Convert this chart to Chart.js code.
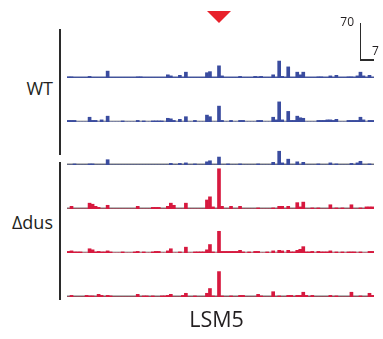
<!DOCTYPE html>
<html>
<head>
<meta charset="utf-8">
<script src="https://cdn.jsdelivr.net/npm/chart.js@4.4.1/dist/chart.umd.min.js"></script>
<style>
  html, body { margin:0; padding:0; background:#fff; }
  #wrap { position:relative; width:383px; height:339px; overflow:hidden; font-family:"Open Sans", "Noto Sans", sans-serif; color:#231f20; }
  .trk { position:absolute; }
  .lbl { position:absolute; white-space:nowrap; }
  .ln { position:absolute; background:#2b2b2b; }
</style>
</head>
<body>
<div id="wrap"></div>
<script>
// ---- data (read counts per 3-nt bin across the LSM5 region) ----
const binLabels = [];
for (let i = 1; i <= 102; i++) binLabels.push(String(i));

const wt1 = [
  2,2,0,0,0,0,0,3,0,0,  0,0,0,13,0,0,0,0,0,0,  0,0,0,2,2,0,0,0,0,0,
  0,0,0,6,4,0,0,5,0,11, 0,0,0,0,0,0,10,12,0,0, 23,4,0,0,0,0,0,3,0,0,
  0,0,3,2,3,0,0,0,6,0,  32,3,0,21,0,0,11,6,11,0, 0,0,0,2,2,0,0,4,0,5,
  0,0,0,2,2,0,4,11,4,0, 5,0];
const wt2 = [
  3,3,3,0,0,0,0,9,3,3,  0,4,0,11,0,0,0,0,2,0,  0,0,0,3,0,2,0,0,2,2,
  2,2,0,7,6,3,0,5,0,10, 0,0,3,0,0,0,13,10,0,0, 30,3,0,0,3,0,0,3,3,0,
  0,0,0,3,3,0,0,0,9,4,  38,4,0,20,3,3,11,8,7,0, 0,0,0,3,3,3,4,4,3,5,
  0,0,0,3,3,3,3,9,4,0,  3,3];
const wt3 = [
  0,0,2,0,0,0,0,2,2,0,  0,0,0,10,0,0,0,0,0,0,  0,0,0,0,0,0,0,0,0,0,
  0,0,0,0,3,0,0,3,0,4,  0,0,2,0,0,0,6,8,0,0,   15,0,0,2,0,0,0,2,0,0,
  0,0,0,2,0,0,0,0,5,0,  26,4,0,11,0,0,6,0,5,0, 0,0,0,2,0,0,0,4,0,2,
  0,0,0,0,3,0,4,7,0,0,  2,0];
const dus1 = [
  0,5,0,0,0,0,0,11,9,5, 3,0,0,7,0,0,0,0,0,0,   0,0,0,5,0,0,0,0,3,3,
  3,0,0,5,11,7,0,0,0,11, 0,0,0,0,0,0,17,23,4,0, 76,5,0,0,5,0,0,5,0,0,
  0,0,0,2,0,0,0,0,2,0,  5,5,0,5,0,0,12,4,13,0, 0,2,0,2,0,0,0,8,0,2,
  0,2,0,0,8,0,0,2,0,4,  4,4];
const dus2 = [
  3,4,2,2,2,0,0,8,6,2,  3,2,2,4,2,0,0,0,2,0,   0,0,2,3,0,2,0,0,2,3,
  3,0,0,4,8,0,0,2,0,11, 0,0,2,2,2,2,6,16,2,0,  41,3,3,3,3,3,3,5,2,0,
  2,0,3,3,0,0,2,0,4,0,  5,4,0,5,2,2,5,7,12,2,  2,3,0,3,2,2,2,4,0,2,
  0,2,0,2,2,2,0,2,0,0,  3,3];
const dus3 = [
  0,3,0,0,0,0,3,2,2,0,  5,3,0,3,2,0,0,0,0,0,   0,0,0,5,0,2,2,0,2,0,
  0,2,2,3,5,0,0,0,3,7,  0,0,2,0,0,0,7,16,2,0,  48,2,0,0,2,0,0,3,3,0,
  0,0,0,5,2,0,0,0,10,0, 2,0,0,3,3,0,3,3,9,3,   0,3,0,0,0,0,0,3,0,2,
  0,0,0,0,9,0,0,2,0,0,  7,3];
const markedBin = "51";   // site marked by the red arrowhead
const scaleBarReads = "70";
const scaleBarNt = "7";
const yMax = 85;

// ---- layout / styles ----
const BLUE = "#3a4c9f", RED = "#d7193f";
const tracks = [
  { data: wt1,  color: BLUE, base: "#4a5a9c", top: 33 },
  { data: wt2,  color: BLUE, base: "#a9a9a9", top: 77 },
  { data: wt3,  color: BLUE, base: "#7a7a7a", top: 120 },
  { data: dus1, color: RED,  base: "#777777", top: 164 },
  { data: dus2, color: RED,  base: "#ababab", top: 208 },
  { data: dus3, color: RED,  base: "#6f6f6f", top: 252 }
];
const TRK_LEFT = 67, TRK_W = 307, TRK_H = 45;

const wrap = document.getElementById('wrap');

const baselinePlugin = {
  id: 'baseline',
  beforeDatasetsDraw(chart, args, opts) {
    const { ctx, chartArea } = chart;
    const y = chart.scales.y.getPixelForValue(0);
    ctx.save();
    ctx.strokeStyle = opts.color;
    ctx.lineWidth = 1.5;
    ctx.beginPath();
    ctx.moveTo(chartArea.left, y - 0.75);
    ctx.lineTo(chartArea.right, y - 0.75);
    ctx.stroke();
    ctx.restore();
  }
};

const charts = [];
tracks.forEach((t) => {
  const c = document.createElement('canvas');
  c.className = 'trk';
  c.width = TRK_W; c.height = TRK_H;
  c.style.left = TRK_LEFT + 'px';
  c.style.top = t.top + 'px';
  c.style.width = TRK_W + 'px';
  c.style.height = TRK_H + 'px';
  wrap.appendChild(c);
  charts.push(new Chart(c, {
    type: 'bar',
    data: {
      labels: binLabels,
      datasets: [{
        data: t.data,
        backgroundColor: t.color,
        borderWidth: 0,
        barPercentage: 1.0,
        categoryPercentage: 1.0
      }]
    },
    options: {
      responsive: false,
      animation: false,
      events: [],
      layout: { padding: 0 },
      plugins: { legend: { display: false }, tooltip: { enabled: false }, baseline: { color: t.base } },
      scales: {
        x: { display: false, offset: true },
        y: { display: false, min: 0, max: yMax }
      }
    },
    plugins: [baselinePlugin]
  }));
});

function addLine(l, t, w, h) {
  const d = document.createElement('div');
  d.className = 'ln';
  d.style.left = l + 'px'; d.style.top = t + 'px';
  d.style.width = w + 'px'; d.style.height = h + 'px';
  wrap.appendChild(d);
}
// fs: font size, baseline y: top = baseline - 0.888*fs (line-height = fs)
function addText(txt, fs, baseline, opts) {
  const d = document.createElement('div');
  d.className = 'lbl';
  d.textContent = txt;
  d.style.fontSize = fs + 'px';
  d.style.lineHeight = fs + 'px';
  d.style.top = (baseline - 0.888 * fs) + 'px';
  if (opts.right !== undefined) { d.style.right = (383 - opts.right) + 'px'; }
  if (opts.left !== undefined) { d.style.left = opts.left + 'px'; }
  if (opts.center !== undefined) { d.style.left = (opts.center - 100) + 'px'; d.style.width = '200px'; d.style.textAlign = 'center'; }
  wrap.appendChild(d);
}

// group brackets
addLine(59, 29, 2, 126);
addLine(59, 162, 2, 138);
addText('WT', 18, 95, { right: 53 });
addText('\u0394dus', 18, 229, { right: 53 });
addText('LSM5', 21.5, 327, { center: 216.5 });

// scale bar
addLine(359.5, 23, 1.3, 37.5);
addLine(359.5, 59.3, 14.5, 1.3);
addText(scaleBarReads, 12, 27, { right: 354 });
addText(scaleBarNt, 12, 56, { left: 372 });

// red arrowhead over marked site
const xs = charts[0].scales.x;
const mx = TRK_LEFT + xs.getPixelForValue(binLabels.indexOf(markedBin));
const tri = document.createElement('div');
tri.style.cssText = 'position:absolute;width:0;height:0;border-left:12px solid transparent;border-right:12px solid transparent;border-top:12px solid #e8212b;';
tri.style.left = (mx - 12) + 'px';
tri.style.top = '11px';
wrap.appendChild(tri);
</script>
</body>
</html>
